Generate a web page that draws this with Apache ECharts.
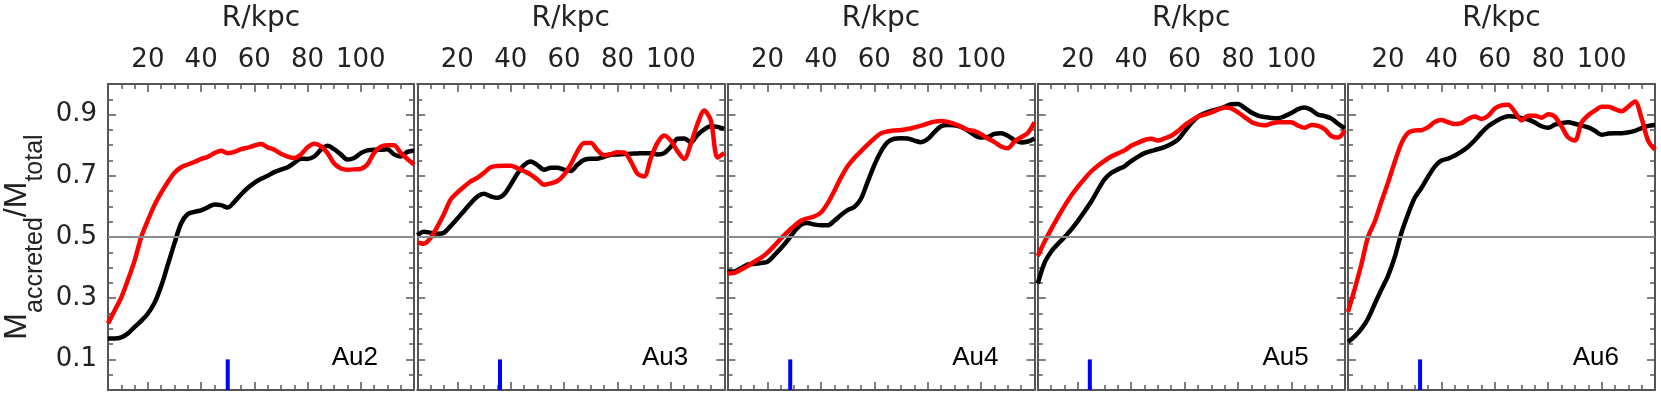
<!DOCTYPE html>
<html>
<head>
<meta charset="utf-8">
<script src="https://cdn.jsdelivr.net/npm/echarts@6/dist/echarts.min.js"></script>
<style>
  html, body { margin: 0; padding: 0; background: #fff; }
  #chart { width: 1661px; height: 396px; }
</style>
</head>
<body>
<div id="chart"></div>
<script>
// radius in kpc (shared by all curves)
var radius = [5, 7.5, 10, 12.5, 15, 17.5, 20, 22.5, 25, 27.5, 30, 32.5, 35, 37.5, 40, 42.5, 45, 47.5, 50, 52.5,
  55, 57.5, 60, 62.5, 65, 67.5, 70, 72.5, 75, 77.5, 80, 82.5, 85, 87.5, 90, 92.5, 95, 97.5, 100, 102.5,
  105, 107.5, 110, 112.5, 115, 117.5, 120];

var halos = ['Au2', 'Au3', 'Au4', 'Au5', 'Au6'];

// black curves
var au2Black = [0.168, 0.168, 0.172, 0.185, 0.206, 0.226, 0.25, 0.285, 0.34, 0.41, 0.48, 0.545, 0.575, 0.582, 0.587, 0.597, 0.606, 0.604, 0.596, 0.615,
  0.639, 0.66, 0.677, 0.69, 0.7, 0.712, 0.72, 0.728, 0.742, 0.756, 0.755, 0.763, 0.785, 0.798, 0.787, 0.77, 0.753, 0.758, 0.774, 0.783,
  0.785, 0.785, 0.787, 0.77, 0.763, 0.778, 0.782];
var au3Black = [0.506, 0.517, 0.514, 0.511, 0.514, 0.536, 0.56, 0.585, 0.61, 0.632, 0.641, 0.633, 0.628, 0.639, 0.671, 0.707, 0.735, 0.747, 0.735, 0.72,
  0.726, 0.726, 0.72, 0.716, 0.736, 0.752, 0.756, 0.756, 0.762, 0.769, 0.77, 0.771, 0.772, 0.773, 0.774, 0.774, 0.77, 0.774, 0.795, 0.821,
  0.822, 0.81, 0.834, 0.852, 0.862, 0.86, 0.853];
var au4Black = [0.387, 0.387, 0.398, 0.41, 0.412, 0.415, 0.419, 0.44, 0.463, 0.489, 0.518, 0.54, 0.546, 0.541, 0.538, 0.538, 0.553, 0.572, 0.588, 0.598,
  0.625, 0.68, 0.735, 0.78, 0.81, 0.821, 0.823, 0.822, 0.815, 0.81, 0.82, 0.843, 0.862, 0.866, 0.865, 0.86, 0.848, 0.833, 0.825, 0.827,
  0.837, 0.839, 0.831, 0.817, 0.809, 0.812, 0.822];
var au5Black = [0.348, 0.415, 0.452, 0.477, 0.499, 0.524, 0.552, 0.583, 0.615, 0.653, 0.688, 0.709, 0.721, 0.731, 0.748, 0.762, 0.774, 0.781, 0.787, 0.794,
  0.804, 0.818, 0.845, 0.872, 0.893, 0.904, 0.912, 0.918, 0.925, 0.934, 0.935, 0.922, 0.907, 0.897, 0.892, 0.889, 0.888, 0.895, 0.905, 0.918,
  0.923, 0.915, 0.9, 0.895, 0.887, 0.87, 0.855];
var au6Black = [0.157, 0.175, 0.2, 0.233, 0.281, 0.328, 0.373, 0.434, 0.513, 0.575, 0.628, 0.66, 0.697, 0.73, 0.75, 0.756, 0.766, 0.779, 0.795, 0.816,
  0.841, 0.862, 0.876, 0.888, 0.895, 0.894, 0.888, 0.884, 0.874, 0.862, 0.857, 0.867, 0.872, 0.875, 0.87, 0.864, 0.858, 0.847, 0.834, 0.838,
  0.839, 0.839, 0.842, 0.847, 0.856, 0.863, 0.866];

// red curves
var au2Red = [0.217, 0.26, 0.303, 0.36, 0.423, 0.5, 0.555, 0.605, 0.645, 0.68, 0.71, 0.728, 0.737, 0.745, 0.755, 0.762, 0.774, 0.782, 0.774, 0.778,
  0.787, 0.792, 0.799, 0.804, 0.793, 0.785, 0.772, 0.763, 0.758, 0.77, 0.793, 0.805, 0.797, 0.774, 0.74, 0.724, 0.72, 0.721, 0.723, 0.737,
  0.775, 0.795, 0.8, 0.8, 0.775, 0.755, 0.737];
var au3Red = [0.482, 0.478, 0.497, 0.533, 0.575, 0.622, 0.645, 0.664, 0.682, 0.693, 0.71, 0.728, 0.732, 0.733, 0.733, 0.725, 0.715, 0.704, 0.688, 0.671,
  0.675, 0.683, 0.703, 0.737, 0.78, 0.807, 0.807, 0.784, 0.767, 0.771, 0.777, 0.776, 0.747, 0.707, 0.698, 0.758, 0.808, 0.832, 0.815, 0.78,
  0.755, 0.805, 0.87, 0.913, 0.88, 0.76, 0.774];
var au4Red = [0.381, 0.383, 0.393, 0.405, 0.419, 0.432, 0.449, 0.471, 0.495, 0.517, 0.536, 0.553, 0.561, 0.567, 0.58, 0.61, 0.65, 0.694, 0.731, 0.758,
  0.78, 0.802, 0.822, 0.839, 0.845, 0.848, 0.85, 0.853, 0.858, 0.864, 0.871, 0.877, 0.879, 0.876, 0.87, 0.86, 0.85, 0.846, 0.836, 0.822,
  0.81, 0.796, 0.79, 0.812, 0.826, 0.84, 0.875];
var au5Red = [0.438, 0.484, 0.525, 0.564, 0.601, 0.635, 0.664, 0.69, 0.714, 0.733, 0.749, 0.763, 0.773, 0.783, 0.798, 0.808, 0.817, 0.821, 0.815, 0.822,
  0.831, 0.846, 0.865, 0.88, 0.894, 0.9, 0.907, 0.916, 0.923, 0.92, 0.907, 0.892, 0.876, 0.868, 0.865, 0.871, 0.875, 0.875, 0.875, 0.864,
  0.857, 0.866, 0.863, 0.852, 0.83, 0.825, 0.848];
var au6Red = [0.255, 0.33, 0.41, 0.5, 0.55, 0.615, 0.678, 0.745, 0.806, 0.84, 0.848, 0.849, 0.859, 0.876, 0.882, 0.875, 0.869, 0.872, 0.886, 0.894,
  0.886, 0.896, 0.92, 0.93, 0.932, 0.909, 0.881, 0.896, 0.896, 0.89, 0.901, 0.893, 0.861, 0.825, 0.815, 0.874, 0.898, 0.913, 0.926, 0.926,
  0.918, 0.911, 0.926, 0.943, 0.887, 0.813, 0.785];

// blue marker radius for each halo
var markerR = [50, 36, 28.5, 24.5, 32];

var xTickLabels = [20, 40, 60, 80, 100];
var yTickLabels = [0.1, 0.3, 0.5, 0.7, 0.9];

var blackCurves = [au2Black, au3Black, au4Black, au5Black, au6Black];
var redCurves = [au2Red, au3Red, au4Red, au5Red, au6Red];

var myChart = echarts.init(document.getElementById('chart'));

var font = "'Liberation Sans', Arial, Helvetica, sans-serif";
var wideFont = "'DejaVu Sans', 'Liberation Sans', sans-serif";
var frameColor = '#555';
var textColor = '#222';

function pairs(r, v) {
  return r.map(function (x, i) { return [x, v[i]]; });
}

var grids = [], xAxes = [], yAxes = [], series = [], titles = [];
var gLeft = 107, gStep = 310.25, gWidth = 307, gTop = 83, gHeight = 307;

halos.forEach(function (name, i) {
  var left = gLeft + i * gStep;
  grids.push({ left: left, top: gTop, width: gWidth, height: gHeight });

  var xBase = { type: 'value', gridIndex: i, min: 5, max: 120, splitLine: { show: false } };
  // top, major ticks + labels
  xAxes.push(Object.assign({}, xBase, {
    position: 'top',
    name: 'R/kpc', nameLocation: 'middle', nameGap: 51,
    nameTextStyle: { fontSize: 28, color: textColor, fontFamily: wideFont },
    axisLine: { onZero: false, lineStyle: { color: frameColor, width: 2 } },
    axisTick: { inside: true, length: 8, customValues: xTickLabels, lineStyle: { color: frameColor, width: 1.5 } },
    axisLabel: { customValues: xTickLabels, fontSize: 26, color: textColor, fontFamily: wideFont, margin: 11 }
  }));
  // top, minor ticks
  xAxes.push(Object.assign({}, xBase, {
    position: 'top', interval: 5,
    axisLine: { show: false, onZero: false },
    axisTick: { inside: true, length: 5, lineStyle: { color: frameColor, width: 1.5 } },
    axisLabel: { show: false }
  }));
  // bottom, major
  xAxes.push(Object.assign({}, xBase, {
    position: 'bottom',
    axisLine: { onZero: false, lineStyle: { color: frameColor, width: 2 } },
    axisTick: { inside: true, length: 8, customValues: xTickLabels, lineStyle: { color: frameColor, width: 1.5 } },
    axisLabel: { show: false }
  }));
  // bottom, minor
  xAxes.push(Object.assign({}, xBase, {
    position: 'bottom', interval: 5,
    axisLine: { show: false, onZero: false },
    axisTick: { inside: true, length: 5, lineStyle: { color: frameColor, width: 1.5 } },
    axisLabel: { show: false }
  }));

  var yBase = { type: 'value', gridIndex: i, min: 0, max: 1, splitLine: { show: false } };
  var leftMajor = Object.assign({}, yBase, {
    position: 'left',
    axisLine: { onZero: false, lineStyle: { color: frameColor, width: 2 } },
    axisTick: { inside: true, length: 8, customValues: yTickLabels, lineStyle: { color: frameColor, width: 1.5 } },
    axisLabel: { show: i === 0, customValues: yTickLabels, fontSize: 26, color: textColor, fontFamily: wideFont, margin: 11 }
  });
  if (i === 0) {
    leftMajor.name = '{m|M}{s|accreted}{m|/M}{s|total}';
    leftMajor.nameLocation = 'middle';
    leftMajor.nameGap = 56;
    leftMajor.nameTextStyle = {
      color: textColor, fontFamily: font,
      rich: {
        m: { fontSize: 32, height: 70, verticalAlign: 'bottom', color: textColor, fontFamily: font },
        s: { fontSize: 25, height: 33, verticalAlign: 'bottom', color: textColor, fontFamily: font }
      }
    };
  }
  yAxes.push(leftMajor);
  yAxes.push(Object.assign({}, yBase, {
    position: 'left', interval: 0.05,
    axisLine: { show: false, onZero: false },
    axisTick: { inside: true, length: 5, lineStyle: { color: frameColor, width: 1.5 } },
    axisLabel: { show: false }
  }));
  yAxes.push(Object.assign({}, yBase, {
    position: 'right',
    axisLine: { onZero: false, lineStyle: { color: frameColor, width: 2 } },
    axisTick: { inside: true, length: 8, customValues: yTickLabels, lineStyle: { color: frameColor, width: 1.5 } },
    axisLabel: { show: false }
  }));
  yAxes.push(Object.assign({}, yBase, {
    position: 'right', interval: 0.05,
    axisLine: { show: false, onZero: false },
    axisTick: { inside: true, length: 5, lineStyle: { color: frameColor, width: 1.5 } },
    axisLabel: { show: false }
  }));

  var xi = 4 * i + 2, yi = 4 * i;
  // 0.5 reference line
  series.push({
    type: 'line', xAxisIndex: xi, yAxisIndex: yi, data: [], z: 1,
    markLine: {
      silent: true, symbol: 'none', label: { show: false },
      lineStyle: { color: '#8a8a8a', width: 2, type: 'solid' },
      data: [{ yAxis: 0.5 }]
    }
  });
  series.push({
    type: 'line', xAxisIndex: xi, yAxisIndex: yi, z: 3,
    data: pairs(radius, blackCurves[i]), showSymbol: false, smooth: 0.3,
    lineStyle: { color: '#000', width: 4.5 }
  });
  series.push({
    type: 'line', xAxisIndex: xi, yAxisIndex: yi, z: 4,
    data: pairs(radius, redCurves[i]), showSymbol: false, smooth: 0.3,
    lineStyle: { color: '#ff0000', width: 4.5 }
  });
  series.push({
    type: 'line', xAxisIndex: xi, yAxisIndex: yi, z: 5,
    data: [[markerR[i], 0], [markerR[i], 0.1]], showSymbol: false,
    lineStyle: { color: '#0000ff', width: 4 }
  });

  titles.push({
    text: name, right: 1661 - (left + gWidth - 36), top: 345, padding: 0,
    textStyle: { fontSize: 26, fontWeight: 'normal', color: '#000', fontFamily: font }
  });
});

var option = {
  animation: false,
  title: titles,
  grid: grids,
  xAxis: xAxes,
  yAxis: yAxes,
  series: series
};
option && myChart.setOption(option);
</script>
</body>
</html>
